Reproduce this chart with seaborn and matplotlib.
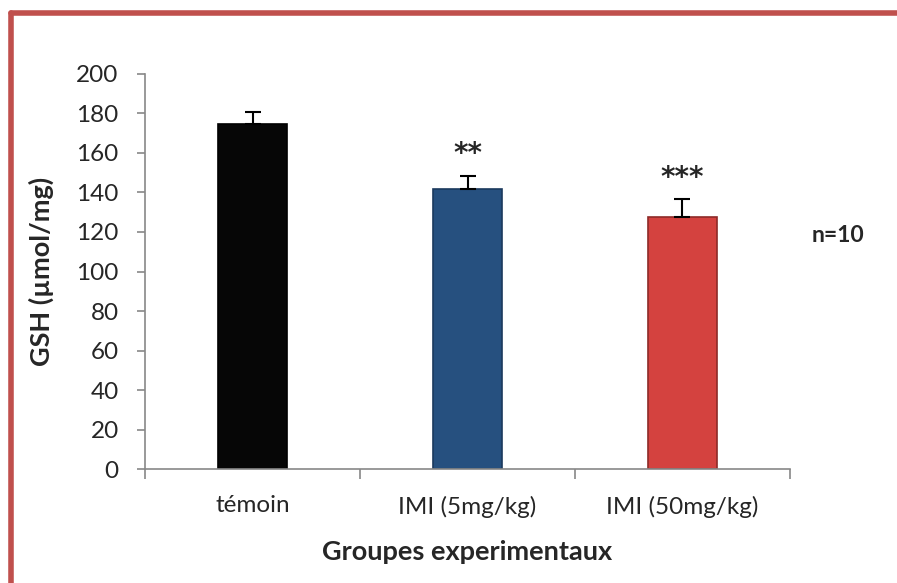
import numpy as np
import pandas as pd
import seaborn as sns
import matplotlib.pyplot as plt
from matplotlib.lines import Line2D

groups = ['témoin', 'IMI (5mg/kg)', 'IMI (50mg/kg)']
gsh = [174.5, 142.0, 127.5]
sem = [6.0, 6.5, 9.0]
stars = ['', '**', '***']
bar_colors = ['#060606', '#26507F', '#D4423F']
edge_colors = ['#000000', '#1B3A5E', '#8E2A28']

sns.set_theme(style='white')
plt.rcParams['font.family'] = ['Lato', 'DejaVu Sans']

df = pd.DataFrame({'groupe': groups, 'gsh': gsh})

fig = plt.figure(figsize=(8.97, 5.83), dpi=100)
ax = fig.add_axes([0.1617, 0.1955, 0.719, 0.6776])

sns.barplot(data=df, x='groupe', y='gsh', hue='groupe', palette=bar_colors,
            width=0.325, legend=False, ax=ax, errorbar=None, saturation=1)
for patch, ec in zip(ax.patches, edge_colors):
    patch.set_edgecolor(ec)
    patch.set_linewidth(1.2)

# one-sided error bars (upper only)
x = np.arange(len(groups))
ax.errorbar(x, gsh, yerr=[np.zeros(len(sem)), sem], fmt='none',
            ecolor='black', elinewidth=1.5, capsize=6, capthick=1.5)

for xi, v, e, s in zip(x, gsh, sem, stars):
    if s:
        ax.text(xi, v + e + 11, s, ha='center', va='center',
                fontsize=20, fontweight='bold', family='DejaVu Sans')

ax.set_ylim(0, 200)
ax.set_yticks(range(0, 201, 20))
ax.set_xlim(-0.5, 2.5)
ax.set_xticks(x)
ax.set_xticks([-0.5, 0.5, 1.5, 2.5], minor=True)
ax.tick_params(axis='x', which='major', length=0, pad=19, labelsize=17.5)
ax.tick_params(axis='x', which='minor', length=7, color='#888888', width=1.2, direction='out', bottom=True)
ax.tick_params(axis='y', length=6, color='#888888', width=1.2, direction='out', left=True, labelsize=17.5, pad=13)

for side in ['top', 'right']:
    ax.spines[side].set_visible(False)
for side in ['left', 'bottom']:
    ax.spines[side].set_color('#888888')
    ax.spines[side].set_linewidth(1.2)

ax.set_xlabel('Groupes experimentaux', fontsize=19.5, fontweight='bold', va='center')
ax.set_ylabel('GSH (µmol/mg)', fontsize=19.5, fontweight='bold', va='center')
ax.xaxis.set_label_coords(0.5, -0.21)
ax.yaxis.set_label_coords(-0.161, 0.5)

fig.text(838 / 897, 1 - 236 / 583, 'n=10', ha='center', va='center',
         fontsize=16.5, fontweight='bold')

# red frame on top and left
fig.add_artist(Line2D([11 / 897, 1], [1 - 12.5 / 583, 1 - 12.5 / 583],
                      color='#C0504D', lw=4, transform=fig.transFigure))
fig.add_artist(Line2D([11 / 897, 11 / 897], [0, 1 - 12.5 / 583],
                      color='#C0504D', lw=4, transform=fig.transFigure))

fig.savefig('out.png', dpi=100)
